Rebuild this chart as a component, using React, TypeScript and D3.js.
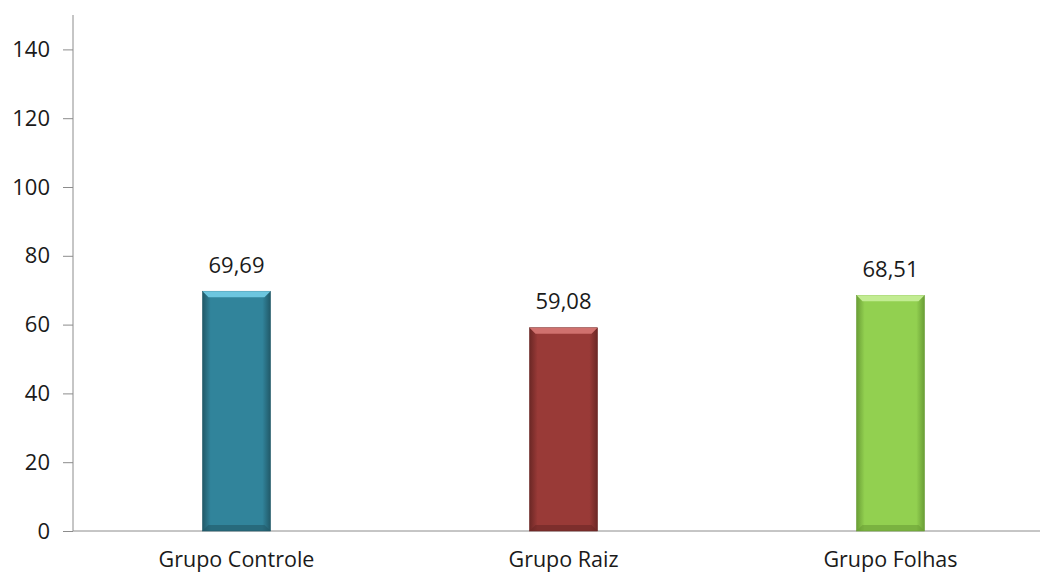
import { useEffect, useRef } from 'react';
import * as d3 from 'd3';

const categories = ['Grupo Controle', 'Grupo Raiz', 'Grupo Folhas'];
const values = [69.69, 59.08, 68.51];
const valueLabels = ['69,69', '59,08', '68,51'];
const yTicks = [0, 20, 40, 60, 80, 100, 120, 140];

const barColors = [
  { main: '#31849b', dark: '#215968', light: '#6cc6df' },
  { main: '#993a37', dark: '#6b2725', light: '#d0716e' },
  { main: '#92d050', dark: '#6a9e36', light: '#c2ec92' },
];

const WIDTH = 1040;
const HEIGHT = 573;

export default function App() {
  const svgRef = useRef<SVGSVGElement>(null);

  useEffect(() => {
    if (!svgRef.current) return;
    const svg = d3.select(svgRef.current);
    svg.selectAll('*').remove();

    const font = '"Open Sans", "Liberation Sans", sans-serif';
    const x0 = 73;
    const baseY = 531;

    const xScale = d3
      .scaleBand<string>()
      .domain(categories)
      .range([x0, 1054])
      .paddingInner(0.792)
      .paddingOuter(0.396);

    const yScale = d3.scaleLinear().domain([0, 150]).range([baseY, 15]);

    // Gradients for the bevelled bars
    const defs = svg.append('defs');
    barColors.forEach((c, i) => {
      const g = defs
        .append('linearGradient')
        .attr('id', `barGrad${i}`)
        .attr('x1', '0%')
        .attr('x2', '100%')
        .attr('y1', '0%')
        .attr('y2', '0%');
      g.append('stop').attr('offset', '0%').attr('stop-color', c.dark);
      g.append('stop').attr('offset', '12%').attr('stop-color', c.main);
      g.append('stop').attr('offset', '88%').attr('stop-color', c.main);
      g.append('stop').attr('offset', '100%').attr('stop-color', c.dark);
    });

    // Axes
    const yAxis = d3
      .axisLeft(yScale)
      .tickValues(yTicks)
      .tickSize(10)
      .tickPadding(13)
      .tickFormat(d => `${d}`);

    const yG = svg.append('g').attr('transform', `translate(${x0},0)`).call(yAxis);
    yG.select('.domain').attr('d', `M0,${yScale(150)}V${baseY}`).attr('stroke', '#8c8c8c');
    yG.selectAll('.tick line').attr('stroke', '#8c8c8c');
    yG.selectAll('.tick text')
      .attr('fill', '#1a1a1a')
      .style('font-family', font)
      .style('font-size', '22px');

    svg
      .append('line')
      .attr('x1', x0)
      .attr('x2', WIDTH)
      .attr('y1', baseY)
      .attr('y2', baseY)
      .attr('stroke', '#8c8c8c');

    // Bars
    const bw = xScale.bandwidth();
    const bars = svg
      .selectAll('.bar')
      .data(values)
      .enter()
      .append('g')
      .attr('class', 'bar');

    bars
      .append('rect')
      .attr('x', (_, i) => xScale(categories[i])!)
      .attr('y', d => yScale(d))
      .attr('width', bw)
      .attr('height', d => baseY - yScale(d))
      .attr('fill', (_, i) => `url(#barGrad${i})`)
      .attr('stroke', (_, i) => barColors[i].dark)
      .attr('stroke-width', 0.6);

    // top bevel
    bars
      .append('path')
      .attr('d', (d, i) => {
        const x = xScale(categories[i])!;
        const y = yScale(d);
        return `M${x},${y}H${x + bw}L${x + bw - 6},${y + 6}H${x + 6}Z`;
      })
      .attr('fill', (_, i) => barColors[i].light);

    // bottom bevel
    bars
      .append('path')
      .attr('d', (_, i) => {
        const x = xScale(categories[i])!;
        return `M${x},${baseY}H${x + bw}L${x + bw - 6},${baseY - 6}H${x + 6}Z`;
      })
      .attr('fill', (_, i) => barColors[i].dark)
      .attr('opacity', 0.6);

    // Value labels
    svg
      .selectAll('.val')
      .data(values)
      .enter()
      .append('text')
      .attr('x', (_, i) => xScale(categories[i])! + bw / 2)
      .attr('y', d => yScale(d) - 18.5)
      .attr('text-anchor', 'middle')
      .attr('fill', '#1a1a1a')
      .style('font-family', font)
      .style('font-size', '22px')
      .text((_, i) => valueLabels[i]);

    // Category labels
    svg
      .selectAll('.cat')
      .data(categories)
      .enter()
      .append('text')
      .attr('x', d => xScale(d)! + bw / 2)
      .attr('y', 567)
      .attr('text-anchor', 'middle')
      .attr('fill', '#1a1a1a')
      .style('font-family', font)
      .style('font-size', '21.5px')
      .text(d => d);
  }, []);

  return (
    <svg
      ref={svgRef}
      width={WIDTH}
      height={HEIGHT}
      style={{ position: 'absolute', left: 0, top: 0, background: '#fff' }}
    />
  );
}
